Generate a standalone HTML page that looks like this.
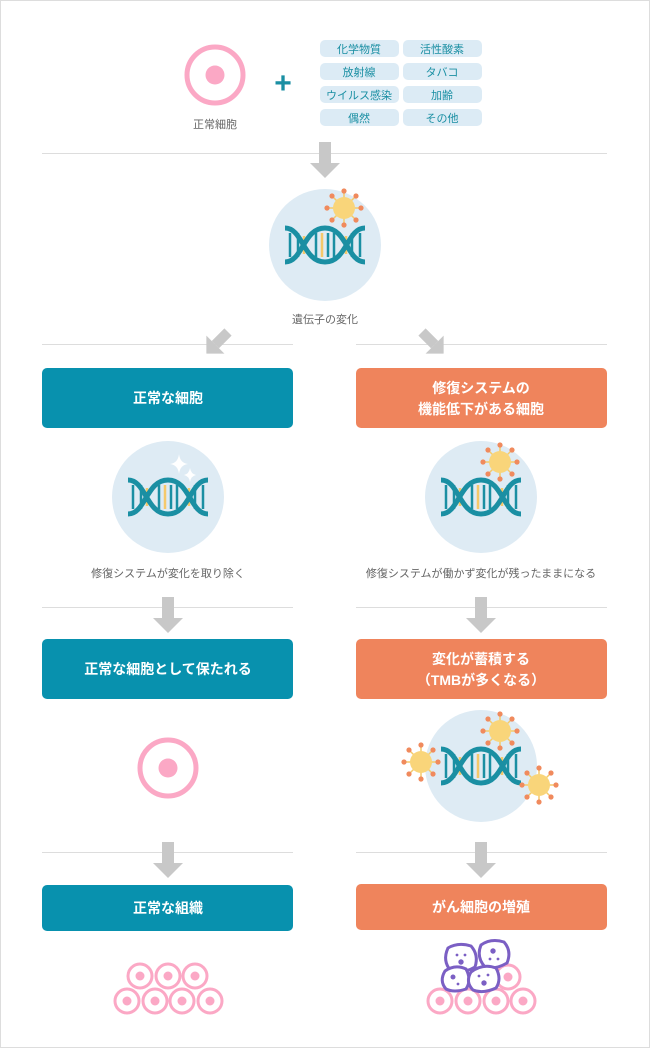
<!DOCTYPE html>
<html><head><meta charset="utf-8"><style>
html,body{margin:0;padding:0;background:#fff}
svg{display:block}
text{font-family:"Liberation Sans","Noto Sans CJK JP",sans-serif}
</style></head><body>
<svg width="650" height="1048" viewBox="0 0 650 1048" xmlns="http://www.w3.org/2000/svg">
<defs>
<g id="dna">
  <g stroke="#f5c96a" stroke-width="2.5">
    <line x1="-21" y1="-9" x2="-21" y2="9"/><line x1="-3" y1="-12" x2="-3" y2="12"/><line x1="21" y1="-9" x2="21" y2="9"/>
  </g>
  <g stroke="#1a8fa3" stroke-width="2.5">
    <line x1="-35" y1="-12" x2="-35" y2="12"/><line x1="-27" y1="-12" x2="-27" y2="12"/>
    <line x1="-9" y1="-12" x2="-9" y2="12"/><line x1="3" y1="-12" x2="3" y2="12"/><line x1="9" y1="-12" x2="9" y2="12"/>
    <line x1="27" y1="-12" x2="27" y2="12"/><line x1="35" y1="-12" x2="35" y2="12"/>
  </g>
  <g fill="none" stroke="#1a8fa3" stroke-width="5">
    <path d="M-40,-17 C-22,-17 -22,17 0,17 C22,17 22,-17 40,-17"/>
    <path d="M-40,17 C-22,17 -22,-17 0,-17 C22,-17 22,17 40,17"/>
  </g>
</g>
<g id="virus">
  <g stroke="#f5c96a" stroke-width="1.5">
    <line x1="0" y1="0" x2="0" y2="-17"/><line x1="0" y1="0" x2="12" y2="-12"/><line x1="0" y1="0" x2="17" y2="0"/><line x1="0" y1="0" x2="12" y2="12"/>
    <line x1="0" y1="0" x2="0" y2="17"/><line x1="0" y1="0" x2="-12" y2="12"/><line x1="0" y1="0" x2="-17" y2="0"/><line x1="0" y1="0" x2="-12" y2="-12"/>
  </g>
  <g fill="#f08a5d">
    <circle cx="0" cy="-17" r="2.6"/><circle cx="12" cy="-12" r="2.6"/><circle cx="17" cy="0" r="2.6"/><circle cx="12" cy="12" r="2.6"/>
    <circle cx="0" cy="17" r="2.6"/><circle cx="-12" cy="12" r="2.6"/><circle cx="-17" cy="0" r="2.6"/><circle cx="-12" cy="-12" r="2.6"/>
  </g>
  <circle r="11" fill="#f9d57a"/>
</g>
<g id="arr"><rect x="-6" y="0" width="12" height="21" fill="#c8c8c8"/><polygon points="-15,21 15,21 0,36" fill="#c8c8c8"/></g>
<g id="cell"><circle r="12" fill="#fff" stroke="#fba8c5" stroke-width="3"/><circle r="4.5" fill="#fba8c5"/></g>
</defs>

<rect x="0.5" y="0.5" width="649" height="1047" fill="#fff" stroke="#ddd"/>

<!-- top -->
<circle cx="215" cy="75" r="28" fill="none" stroke="#fba8c5" stroke-width="5"/>
<circle cx="215" cy="75" r="9.5" fill="#fba8c5"/>
<text x="215" y="128" font-size="11" fill="#666" text-anchor="middle">正常細胞</text>
<text x="283" y="93" font-size="30" font-weight="bold" fill="#1a8fa3" text-anchor="middle">+</text>
<g fill="#dcebf5">
<rect x="320" y="40" width="79" height="17" rx="5"/><rect x="403" y="40" width="79" height="17" rx="5"/>
<rect x="320" y="63" width="79" height="17" rx="5"/><rect x="403" y="63" width="79" height="17" rx="5"/>
<rect x="320" y="86" width="79" height="17" rx="5"/><rect x="403" y="86" width="79" height="17" rx="5"/>
<rect x="320" y="109" width="79" height="17" rx="5"/><rect x="403" y="109" width="79" height="17" rx="5"/>
</g>
<g font-size="11" fill="#1a8fa3" text-anchor="middle">
<text x="359" y="53">化学物質</text><text x="442" y="53">活性酸素</text>
<text x="359" y="76">放射線</text><text x="442" y="76">タバコ</text>
<text x="359" y="99">ウイルス感染</text><text x="442" y="99">加齢</text>
<text x="359" y="122">偶然</text><text x="442" y="122">その他</text>
</g>
<line x1="42" y1="153.5" x2="607" y2="153.5" stroke="#ddd"/>
<use href="#arr" x="325" y="142"/>
<circle cx="325" cy="245" r="56" fill="#deebf4"/>
<use href="#dna" x="325" y="245"/>
<use href="#virus" x="344" y="208"/>
<text x="325" y="323" font-size="11" fill="#666" text-anchor="middle">遺伝子の変化</text>

<line x1="42" y1="344.5" x2="293" y2="344.5" stroke="#ddd"/>
<line x1="356" y1="344.5" x2="607" y2="344.5" stroke="#ddd"/>
<use href="#arr" transform="translate(228,332) rotate(45) scale(0.85)"/>
<use href="#arr" transform="translate(422,332) rotate(-45) scale(0.85)"/>

<!-- boxes row1 -->
<rect x="42" y="368" width="251" height="60" rx="5" fill="#0891ae"/>
<rect x="356" y="368" width="251" height="60" rx="5" fill="#ef845c"/>
<g font-size="14" font-weight="bold" fill="#fff" text-anchor="middle">
<text x="168" y="403">正常な細胞</text>
<text x="481" y="393">修復システムの</text>
<text x="481" y="414">機能低下がある細胞</text>
</g>
<circle cx="168" cy="497" r="56" fill="#deebf4"/>
<use href="#dna" x="168" y="497"/>
<path d="M179,454 Q180,463 188,464 Q180,465 179,474 Q178,465 170,464 Q178,463 179,454Z" fill="#fff"/>
<path d="M190,468 Q191,474 196,475 Q191,476 190,482 Q189,476 184,475 Q189,474 190,468Z" fill="#fff"/>
<circle cx="481" cy="497" r="56" fill="#deebf4"/>
<use href="#dna" x="481" y="497"/>
<use href="#virus" x="500" y="462"/>
<text x="168" y="577" font-size="11" fill="#666" text-anchor="middle">修復システムが変化を取り除く</text>
<text x="481" y="577" font-size="11" fill="#666" text-anchor="middle">修復システムが働かず変化が残ったままになる</text>

<line x1="42" y1="607.5" x2="293" y2="607.5" stroke="#ddd"/>
<line x1="356" y1="607.5" x2="607" y2="607.5" stroke="#ddd"/>
<use href="#arr" x="168" y="597"/>
<use href="#arr" x="481" y="597"/>

<rect x="42" y="639" width="251" height="60" rx="5" fill="#0891ae"/>
<rect x="356" y="639" width="251" height="60" rx="5" fill="#ef845c"/>
<g font-size="14" font-weight="bold" fill="#fff" text-anchor="middle">
<text x="168" y="674">正常な細胞として保たれる</text>
<text x="481" y="664">変化が蓄積する</text>
<text x="481" y="685">（TMBが多くなる）</text>
</g>
<circle cx="168" cy="768" r="28" fill="none" stroke="#fba8c5" stroke-width="5"/>
<circle cx="168" cy="768" r="9.5" fill="#fba8c5"/>
<circle cx="481" cy="766" r="56" fill="#deebf4"/>
<use href="#dna" x="481" y="766"/>
<use href="#virus" x="500" y="731"/>
<use href="#virus" x="421" y="762"/>
<use href="#virus" x="539" y="785"/>

<line x1="42" y1="852.5" x2="293" y2="852.5" stroke="#ddd"/>
<line x1="356" y1="852.5" x2="607" y2="852.5" stroke="#ddd"/>
<use href="#arr" x="168" y="842"/>
<use href="#arr" x="481" y="842"/>

<rect x="42" y="885" width="251" height="46" rx="5" fill="#0891ae"/>
<rect x="356" y="884" width="251" height="46" rx="5" fill="#ef845c"/>
<g font-size="14" font-weight="bold" fill="#fff" text-anchor="middle">
<text x="168" y="913">正常な組織</text>
<text x="481" y="912">がん細胞の増殖</text>
</g>

<!-- bottom cells left -->
<use href="#cell" x="140" y="976"/><use href="#cell" x="168" y="976"/><use href="#cell" x="195" y="976"/>
<use href="#cell" x="127" y="1001"/><use href="#cell" x="155" y="1001"/><use href="#cell" x="182" y="1001"/><use href="#cell" x="210" y="1001"/>
<!-- right -->
<use href="#cell" x="508" y="977"/>
<use href="#cell" x="440" y="1001"/><use href="#cell" x="468" y="1001"/><use href="#cell" x="496" y="1001"/><use href="#cell" x="523" y="1001"/>
<g fill="#fff" stroke="#7b5fc4" stroke-width="3">
<path d="M448,948 Q458,942 471,946 Q479,955 475,967 Q463,974 451,971 Q442,961 448,948Z"/>
<path d="M481,945 Q491,938 504,942 Q512,951 507,963 Q495,970 485,967 Q476,957 481,945Z"/>
<path d="M445,971 Q455,964 466,969 Q472,980 466,989 Q454,993 446,989 Q439,981 445,971Z"/>
<path d="M471,972 Q483,963 496,968 Q502,979 496,988 Q483,994 473,990 Q465,982 471,972Z"/>
</g>
<g fill="#7b5fc4">
<circle cx="461" cy="962" r="2.7"/><circle cx="457" cy="955" r="1.4"/><circle cx="465" cy="955" r="1.4"/>
<circle cx="493" cy="951" r="2.7"/><circle cx="490" cy="959" r="1.4"/><circle cx="498" cy="959" r="1.4"/>
<circle cx="453" cy="977" r="2.5"/><circle cx="458" cy="984" r="1.4"/>
<circle cx="484" cy="983" r="2.7"/><circle cx="479" cy="976" r="1.4"/><circle cx="488" cy="975" r="1.4"/>
</g>
</svg>
</body></html>
